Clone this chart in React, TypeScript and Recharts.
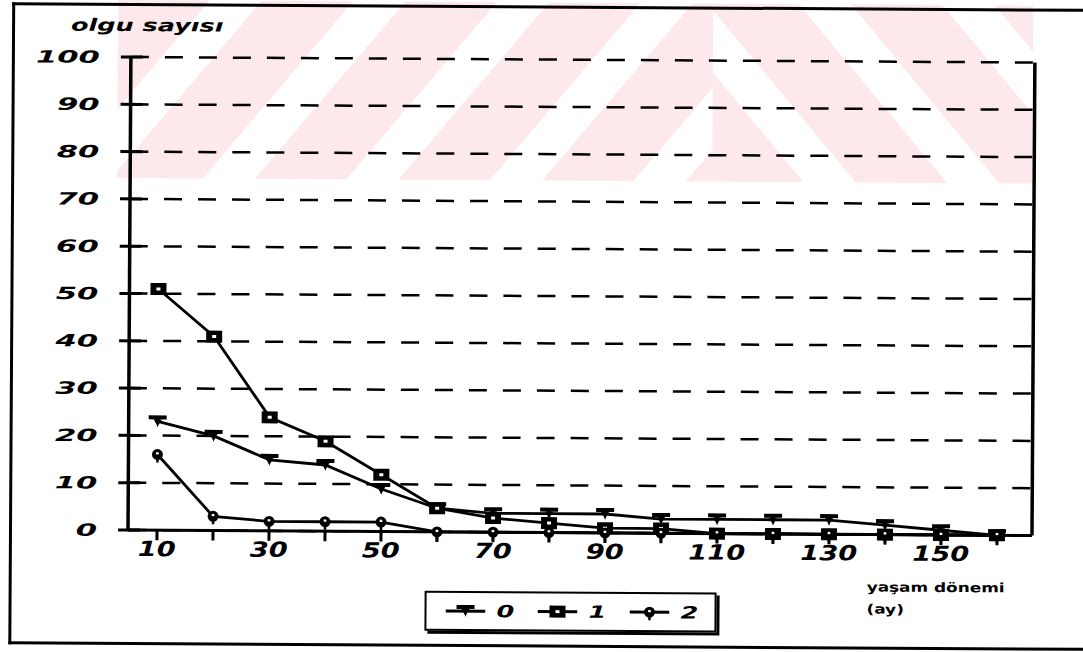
import { LineChart, Line, XAxis, YAxis, CartesianGrid } from "recharts";

// yaşam dönemi (ay)
const ages = ["10", "20", "30", "40", "50", "60", "70", "80", "90", "100", "110", "120", "130", "140", "150", "160"];
const grup0 = [23, 20, 15, 14, 9, 5, 4, 4, 4, 3, 3, 3, 3, 2, 1, 0];
const grup1 = [51, 41, 24, 19, 12, 5, 3, 2, 1, 1, 0, 0, 0, 0, 0, 0];
const grup2 = [16, 3, 2, 2, 2, 0, 0, 0, 0, 0, 0, 0, 0, 0, 0, 0];
const yTicks = [0, 10, 20, 30, 40, 50, 60, 70, 80, 90, 100];
const seriesNames = ["0", "1", "2"];

const data = ages.map((a, i) => ({ age: a, g0: grup0[i], g1: grup1[i], g2: grup2[i] }));

const INK = "#000";
const PINK = "#fde8ec";
const labelFont = { fontFamily: "DejaVu Sans", fontStyle: "italic" as const, fontWeight: 700 };

const TriDot = (p: any) => {
  const { cx, cy } = p;
  if (cx == null || cy == null) return <g />;
  return (
    <g>
      <path d={`M${cx - 9},${cy - 6} L${cx + 9},${cy - 6} L${cx + 9},${cy - 2} L${cx + 2},${cy - 2} L${cx},${cy + 6} L${cx - 2},${cy - 2} L${cx - 9},${cy - 2} Z`} fill={INK} />
      <path d={`M${cx - 4},${cy - 2} L${cx + 4},${cy - 2} L${cx},${cy + 5} Z`} fill={INK} />
    </g>
  );
};

const SquareDot = (p: any) => {
  const { cx, cy } = p;
  if (cx == null || cy == null) return <g />;
  return (
    <g>
      <rect x={cx - 8} y={cy - 6} width={16} height={12} fill={INK} />
      <rect x={cx - 2} y={cy - 1.5} width={4} height={3} fill="#fff" />
    </g>
  );
};

const CircleDot = (p: any) => {
  const { cx, cy } = p;
  if (cx == null || cy == null) return <g />;
  return (
    <g>
      <circle cx={cx} cy={cy} r={5.5} fill={INK} />
      <circle cx={cx} cy={cy - 1} r={1.5} fill="#fff" />
      <line x1={cx} x2={cx} y1={cy} y2={cy + 8} stroke={INK} strokeWidth={2.5} />
    </g>
  );
};

const YTick = ({ x, y, payload }: any) => {
  const ax = x + 31;
  return (
    <g>
      <line x1={ax - 10} x2={ax + 12} y1={y} y2={y} stroke={INK} strokeWidth={3} />
      <text transform={`translate(${x} ${y}) scale(1.8 1)`} dy={6} textAnchor="end" fontSize={17} fill={INK} {...labelFont}>
        {payload.value}
      </text>
    </g>
  );
};

const XTick = ({ x, y, payload, index }: any) => {
  if (index % 2 === 1) return <g />;
  return (
    <text transform={`translate(${x} ${y}) scale(1.3 1)`} dy={16} textAnchor="middle" fontSize={21} fill={INK} {...labelFont}>
      {payload.value}
    </text>
  );
};

const legendDots = [TriDot, SquareDot, CircleDot];

const LegendBox = () => (
  <div
    style={{
      position: "absolute",
      left: 425,
      top: 589,
      width: 292,
      height: 40,
      border: "2px solid #000",
      boxShadow: "3px 3px 0 #000",
      background: "#fff",
      display: "flex",
      alignItems: "center",
      justifyContent: "space-around",
      boxSizing: "border-box",
      padding: "0 6px",
    }}
  >
    {seriesNames.map((n, i) => {
      const Dot = legendDots[i];
      return (
        <div key={n} style={{ display: "flex", alignItems: "center", gap: 14 }}>
          <svg width={40} height={24}>
            <line x1={0} x2={40} y1={12} y2={12} stroke={INK} strokeWidth={3} />
            <Dot cx={20} cy={12} />
          </svg>
          <span style={{ ...labelFont, fontSize: 17, display: "inline-block", transform: "scaleX(1.5)" }}>{n}</span>
        </div>
      );
    })}
  </div>
);

export default function App() {
  return (
    <div style={{ position: "absolute", left: 0, top: 0, width: 1083, height: 652, background: "#fff", overflow: "hidden" }}>
      <div style={{ position: "absolute", left: 0, top: 0, width: 1083, height: 652, transform: "rotate(0.35deg)", transformOrigin: "128px 530px" }}>
        {/* watermark */}
        <div
          style={{
            position: "absolute", left: 115, top: 0, width: 595, height: 178,
            background: `repeating-linear-gradient(130deg, ${PINK} 0 70px, transparent 70px 110px)`,
          }}
        />
        <div
          style={{
            position: "absolute", left: 710, top: 0, width: 320, height: 178,
            background: `repeating-linear-gradient(50deg, ${PINK} 0 70px, transparent 70px 110px)`,
          }}
        />
        {/* outer frame */}
        <div style={{ position: "absolute", left: 9, top: 3, width: 1100, height: 636, borderLeft: "3px solid #000", borderTop: "3px solid #000", borderBottom: "3px solid #000" }} />

        <div style={{ position: "absolute", left: 68, top: 15, fontSize: 17, ...labelFont, transform: "scaleX(1.5)", transformOrigin: "left", whiteSpace: "nowrap" }}>
          olgu sayısı
        </div>
        <div style={{ position: "absolute", left: 867, top: 572, fontSize: 13, fontFamily: "DejaVu Sans", fontWeight: 700, transform: "scaleX(1.3)", transformOrigin: "left", whiteSpace: "nowrap", lineHeight: "22px" }}>
          yaşam dönemi
          <br />
          (ay)
        </div>

        <div style={{ position: "absolute", left: 0, top: 0 }}>
          <LineChart width={1083} height={652} data={data} margin={{ top: 57, left: 68, right: 50, bottom: 92 }}>
            <CartesianGrid horizontal vertical={false} stroke={INK} strokeWidth={2.5} strokeDasharray="18 16" />
            <XAxis
              dataKey="age"
              interval={0}
              padding={{ left: 29, right: 35 }}
              height={30}
              tickSize={10}
              tickMargin={0}
              tick={<XTick />}
              tickLine={{ stroke: INK, strokeWidth: 3 }}
              axisLine={{ stroke: INK, strokeWidth: 3 }}
            />
            <XAxis xAxisId="top" orientation="top" dataKey="age" height={0} tick={false} tickLine={false} axisLine={{ stroke: INK, strokeWidth: 3 }} />
            <YAxis
              domain={[0, 100]}
              ticks={yTicks}
              width={60}
              tickSize={10}
              tickMargin={21}
              tickLine={false}
              tick={<YTick />}
              axisLine={{ stroke: INK, strokeWidth: 3.5 }}
            />
            <YAxis yAxisId="r" orientation="right" domain={[0, 100]} width={1} tick={false} tickLine={false} axisLine={{ stroke: INK, strokeWidth: 3.5 }} />
            <Line dataKey="g0" name={seriesNames[0]} stroke={INK} strokeWidth={2.8} dot={TriDot} isAnimationActive={false} />
            <Line dataKey="g1" name={seriesNames[1]} stroke={INK} strokeWidth={2.8} dot={SquareDot} isAnimationActive={false} />
            <Line dataKey="g2" name={seriesNames[2]} stroke={INK} strokeWidth={2.8} dot={CircleDot} isAnimationActive={false} />
          </LineChart>
        </div>
        <LegendBox />
      </div>
    </div>
  );
}
